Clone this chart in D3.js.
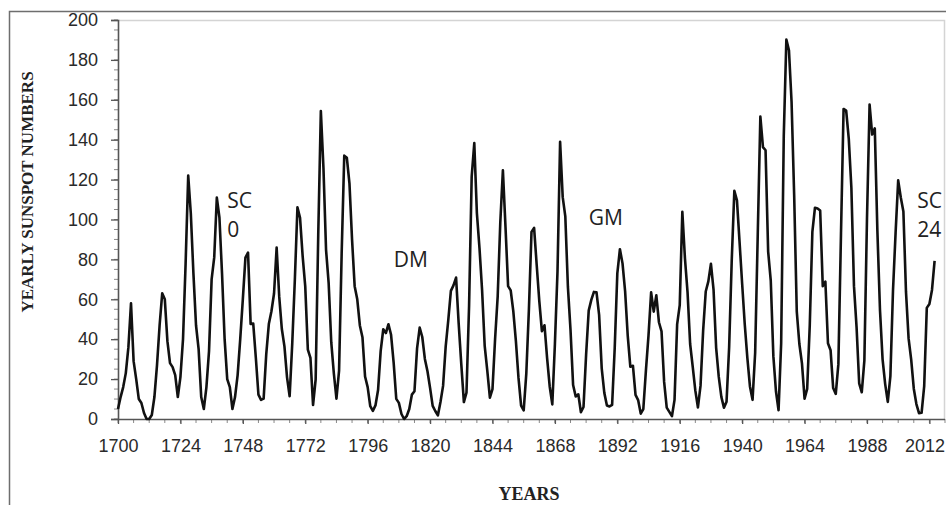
<!DOCTYPE html>
<html>
<head>
<meta charset="utf-8">
<script src="https://cdn.jsdelivr.net/npm/d3@7"></script>
<style>
  html, body { margin: 0; padding: 0; background: #fff; }
  svg { display: block; }
</style>
</head>
<body>
<svg id="chart" width="946" height="505"></svg>
<script>
// Yearly sunspot numbers 1700-2014
const startYear = 1700;
const sunspots = [
  5, 11, 16, 23, 36, 58, 29, 20, 10, 8,
  3, 0, 0, 2, 11, 27, 47, 63, 60, 39,
  28, 26, 22, 11, 21, 40, 78, 122, 103, 73,
  47, 35, 11, 5, 16, 34, 70, 81, 111, 101,
  73, 40, 20, 16, 5, 11, 22, 40, 60, 80.9,
  83.4, 47.7, 47.8, 30.7, 12.2, 9.6, 10.2, 32.4, 47.6, 54.0,
  62.9, 85.9, 61.2, 45.1, 36.4, 20.9, 11.4, 37.8, 69.8, 106.1,
  100.8, 81.6, 66.5, 34.8, 30.6, 7.0, 19.8, 92.5, 154.4, 125.9,
  84.8, 68.1, 38.5, 22.8, 10.2, 24.1, 82.9, 132.0, 130.9, 118.1,
  89.9, 66.6, 60.0, 46.9, 41.0, 21.3, 16.0, 6.4, 4.1, 6.8,
  14.5, 34.0, 45.0, 43.1, 47.5, 42.2, 28.1, 10.1, 8.1, 2.5,
  0.0, 1.4, 5.0, 12.2, 13.9, 35.4, 45.8, 41.1, 30.1, 23.9,
  15.6, 6.6, 4.0, 1.8, 8.5, 16.6, 36.3, 49.6, 64.2, 67.0,
  70.9, 47.8, 27.5, 8.5, 13.2, 56.9, 121.5, 138.3, 103.2, 85.7,
  64.6, 36.7, 24.2, 10.7, 15.0, 40.1, 61.5, 98.5, 124.7, 96.3,
  66.6, 64.5, 54.1, 39.0, 20.6, 6.7, 4.3, 22.7, 54.8, 93.8,
  95.8, 77.2, 59.1, 44.0, 47.0, 30.5, 16.3, 7.3, 37.6, 74.0,
  139.0, 111.2, 101.6, 66.2, 44.7, 17.0, 11.3, 12.4, 3.4, 6.0,
  32.3, 54.3, 59.7, 63.7, 63.5, 52.2, 25.4, 13.1, 6.8, 6.3,
  7.1, 35.6, 73.0, 85.1, 78.0, 64.0, 41.8, 26.2, 26.7, 12.1,
  9.5, 2.7, 5.0, 24.4, 42.0, 63.5, 53.8, 62.0, 48.5, 43.9,
  18.6, 5.7, 3.6, 1.4, 9.6, 47.4, 57.1, 103.9, 80.6, 63.6,
  37.6, 26.1, 14.2, 5.8, 16.7, 44.3, 63.9, 69.0, 77.8, 64.9,
  35.7, 21.2, 11.1, 5.7, 8.7, 36.1, 79.7, 114.4, 109.6, 88.8,
  67.8, 47.5, 30.6, 16.3, 9.6, 33.2, 92.6, 151.6, 136.3, 134.7,
  83.9, 69.4, 31.5, 13.9, 4.4, 38.0, 141.7, 190.2, 184.8, 159.0,
  112.3, 53.9, 37.6, 27.9, 10.2, 15.1, 47.0, 93.8, 105.9, 105.5,
  104.5, 66.6, 68.9, 38.0, 34.5, 15.5, 12.6, 27.5, 92.5, 155.4,
  154.6, 140.4, 115.9, 66.6, 45.9, 17.9, 13.4, 29.4, 100.2, 157.6,
  142.6, 145.7, 94.3, 54.6, 29.9, 17.5, 8.6, 21.5, 64.3, 93.3,
  119.6, 111.0, 104.0, 63.7, 40.4, 29.8, 15.2, 7.5, 2.9, 3.1,
  16.5, 55.7, 57.6, 64.7, 79.3
];
const xTicks = [1700, 1724, 1748, 1772, 1796, 1820, 1844, 1868, 1892, 1916, 1940, 1964, 1988, 2012];
const yTicks = [0, 20, 40, 60, 80, 100, 120, 140, 160, 180, 200];
const annotations = [
  { lines: ["SC", "0"], year: 1742, value: 106 },
  { lines: ["DM"], year: 1806, value: 76 },
  { lines: ["GM"], year: 1881, value: 97 },
  { lines: ["SC", "24"], year: 2007.3, value: 106 }
];

const data = sunspots.map((v, i) => ({ year: startYear + i, value: v }));

const svg = d3.select("#chart");
const mLeft = 118, mRight = 945, mTop = 20, mBottom = 419;

const x = d3.scaleLinear().domain([1700, 2018]).range([mLeft, mRight]);
const y = d3.scaleLinear().domain([0, 200]).range([mBottom, mTop]);

// outer frame
svg.append("path")
  .attr("d", `M9.5,505 V11.5 H946`)
  .attr("fill", "none").attr("stroke", "#6e6e6e").attr("stroke-width", 1.5);

// plot box (light top/right)
svg.append("path")
  .attr("d", `M${mLeft},${mTop + 0.5} H${mRight - 0.5} V${mBottom}`)
  .attr("fill", "none").attr("stroke", "#d4d4d4").attr("stroke-width", 1.5);

// minor ticks
const minorY = d3.range(0, 201, 5);
svg.append("g").selectAll("line").data(minorY).join("line")
  .attr("x1", mLeft - 4).attr("x2", mLeft)
  .attr("y1", d => y(d)).attr("y2", d => y(d))
  .attr("stroke", "#8a8a8a").attr("stroke-width", 1);
const minorX = d3.range(1700, 2019, 6);
svg.append("g").selectAll("line").data(minorX).join("line")
  .attr("x1", d => x(d)).attr("x2", d => x(d))
  .attr("y1", mBottom).attr("y2", mBottom + 4)
  .attr("stroke", "#8a8a8a").attr("stroke-width", 1);

// y axis
const yAxis = svg.append("g")
  .attr("transform", `translate(${mLeft},0)`)
  .call(d3.axisLeft(y).tickValues(yTicks).tickSize(7).tickPadding(13).tickFormat(d3.format("d")));
yAxis.select(".domain").attr("stroke", "#555").attr("stroke-width", 1.6);
yAxis.selectAll(".tick line").attr("stroke", "#555").attr("stroke-width", 1.3);
yAxis.selectAll("text").attr("font-family", "Liberation Sans, Arial, sans-serif")
  .attr("font-size", 18).attr("fill", "#2a2a2a");

// x axis
const xAxis = svg.append("g")
  .attr("transform", `translate(0,${mBottom})`)
  .call(d3.axisBottom(x).tickValues(xTicks).tickSize(5).tickPadding(15).tickFormat(d3.format("d")));
xAxis.select(".domain").attr("stroke", "#555").attr("stroke-width", 1.6).attr("d", `M${mLeft},0.5H${mRight}`);
xAxis.selectAll(".tick line").attr("stroke", "#555").attr("stroke-width", 1.3);
xAxis.selectAll("text").attr("font-family", "Liberation Sans, Arial, sans-serif")
  .attr("font-size", 18).attr("fill", "#2a2a2a")
  .attr("dx", d => d === 2012 ? -5 : 0);

// data line
const line = d3.line().x(d => x(d.year)).y(d => y(d.value));
svg.append("path").datum(data)
  .attr("d", line)
  .attr("fill", "none").attr("stroke", "#111").attr("stroke-width", 2.6)
  .attr("stroke-linejoin", "round");

// annotations
const ann = svg.append("g").attr("font-family", "Open Sans, Noto Sans, sans-serif")
  .attr("font-size", 21).attr("fill", "#222");
annotations.forEach(a => {
  const t = ann.append("text").attr("x", x(a.year)).attr("y", y(a.value));
  a.lines.forEach((l, i) => t.append("tspan").attr("x", x(a.year)).attr("dy", i === 0 ? 0 : 29).text(l));
});

// axis titles
svg.append("text")
  .attr("transform", `translate(33,${192}) rotate(-90)`)
  .attr("text-anchor", "middle")
  .attr("font-family", "Liberation Serif, Times New Roman, serif")
  .attr("font-weight", "bold").attr("font-size", 17).attr("fill", "#222")
  .text("YEARLY SUNSPOT NUMBERS");
svg.append("text")
  .attr("x", 529).attr("y", 500)
  .attr("text-anchor", "middle")
  .attr("font-family", "Liberation Serif, Times New Roman, serif")
  .attr("font-weight", "bold").attr("font-size", 18).attr("fill", "#222")
  .text("YEARS");
</script>
</body>
</html>
